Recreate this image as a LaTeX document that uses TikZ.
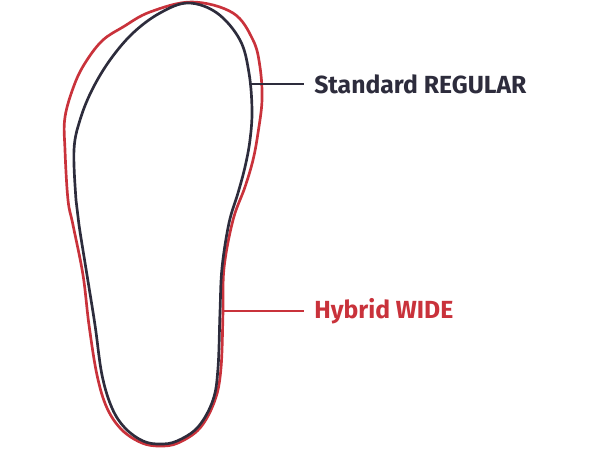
\documentclass[tikz,border=0pt]{standalone}
\usepackage{fontspec}
\setmainfont{Fira Sans}
\usetikzlibrary{positioning}
\definecolor{regularcol}{HTML}{2D2C3C}
\definecolor{widecol}{HTML}{C9323B}

\begin{document}
\begin{tikzpicture}[
    x=0.025cm, y=-0.025cm,
    outline/.style={line width=1.9pt, line join=round},
    lbl/.style={anchor=west, inner xsep=0.25cm, inner ysep=0pt, font=\fontsize{17.6}{20}\selectfont\bfseries},
    lead/.style={line width=1.9pt}
]
    \useasboundingbox (0,0) rectangle (600,450);

    % Hybrid WIDE outline
    \draw[outline, widecol] plot[smooth cycle, tension=0.6] coordinates {
        (192,2) (233,13) (253,40) (260,67) (262,100) (258,133) (253,160) (245,187)
        (233,220) (224,268) (223,312) (221,368) (215,400) (200,428) (178,443) (160,446)
        (142,443) (122,430) (107,408) (97,375) (89,325) (83,275) (73,225) (68,200) (65,150)
        (65,117) (75,83) (87,60) (103,40) (123,27) (150,12)};

    % Standard REGULAR outline
    \draw[outline, regularcol] plot[smooth cycle, tension=0.6] coordinates {
        (188,3) (217,13) (240,40) (249,73) (252,110) (250,140) (245,167) (238,193)
        (229,223) (222,268) (220,312) (218,368) (213,400) (198,427) (177,441) (160,444)
        (143,441) (125,428) (112,408) (102,375) (95,325) (87,275) (79,225) (76,200) (74,150)
        (80,120) (92,90) (110,60) (133,33) (160,13)};

    % Labels
    \coordinate (regpt) at (251,84);
    \coordinate (widept) at (222,311);
    \node[lbl, text=regularcol] (reglabel) at (304,84) {Standard REGULAR};
    \node[lbl, text=widecol] (widelabel) at (304,311) {Hybrid WIDE};

    % Connectors
    \draw[lead, regularcol] (regpt) -- (reglabel.west);
    \draw[lead, widecol] (widept) -- (widelabel.west);

\end{tikzpicture}
\end{document}
